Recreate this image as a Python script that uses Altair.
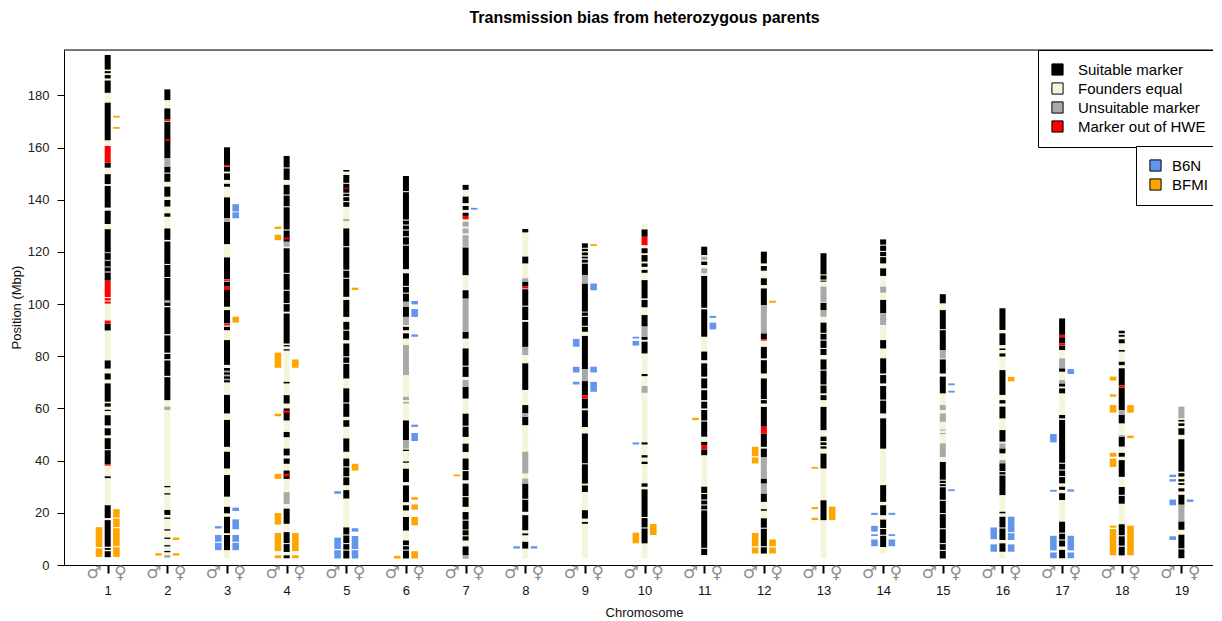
import altair as alt
import pandas as pd

# ---------------- data ----------------
chromosomes = list(range(1, 20))
chrom_start = [3.0, 2.7, 2.7, 2.6, 2.5, 2.5, 2.4, 2.5, 2.5, 2.5, 3.8, 4.4, 2.5, 4.3, 2.5, 2.5, 2.6, 3.0, 2.6]
chrom_end = [195.5, 182.3, 160.1, 156.8, 151.4, 149.1, 145.7, 128.8, 123.3, 130.7, 122.0, 120.1, 119.5, 124.8,
             103.8, 98.4, 94.5, 89.8, 60.7]

# marker segments (start Mbp, end Mbp, code) S=suitable, U=unsuitable, H=out of HWE, E=founders equal
seg1 = [(3.0, 5.3, 'S'), (5.8, 6.5, 'S'), (7.0, 17.2, 'S'), (18.0, 22.9, 'S'), (33.3, 34.0, 'S'),
        (38.6, 44.0, 'S'), (44.4, 48.6, 'S'), (38.1, 38.6, 'H'), (49.7, 52.4, 'S'), (53.5, 57.4, 'S'),
        (59.0, 59.5, 'S'), (60.7, 62.0, 'S'), (62.6, 69.6, 'S'), (71.1, 73.4, 'S'), (75.3, 78.4, 'S'),
        (89.9, 92.5, 'S'), (92.5, 93.7, 'H'), (100.2, 101.0, 'H'), (101.4, 102.3, 'H'), (102.7, 109.0, 'H'),
        (109.0, 128.7, 'S'), (112.0, 112.6, 'U'), (114.0, 114.5, 'U'), (116.5, 117.0, 'U'), (119.5, 120.0, 'U'),
        (130.7, 135.8, 'S'), (137.0, 145.3, 'S'), (146.0, 149.8, 'S'), (152.3, 154.2, 'S'), (154.2, 160.6, 'H'),
        (162.8, 177.2, 'S'), (181.0, 185.7, 'S'), (186.5, 187.8, 'S'), (188.5, 189.3, 'S'), (189.9, 195.5, 'S')]
seg2 = [(2.8, 3.8, 'U'), (4.9, 5.4, 'S'), (7.1, 7.6, 'S'), (10.0, 10.5, 'S'), (13.2, 13.7, 'S'), (17.7, 18.2, 'S'),
        (19.2, 21.1, 'S'), (27.0, 27.5, 'S'), (29.8, 30.3, 'S'), (59.4, 60.7, 'U'), (63.2, 72.0, 'S'),
        (72.5, 78.4, 'S'), (78.9, 80.9, 'S'), (81.4, 88.0, 'S'), (88.5, 98.8, 'S'), (99.3, 124.0, 'S'),
        (100.5, 101.5, 'U'), (110.0, 110.4, 'E'), (115.0, 115.4, 'E'), (124.6, 129.0, 'S'), (133.5, 134.8, 'S'),
        (137.4, 139.9, 'S'), (141.2, 145.0, 'S'), (146.9, 150.0, 'S'), (150.4, 152.7, 'S'), (152.7, 155.9, 'U'),
        (155.9, 169.9, 'S'), (162.6, 163.2, 'H'), (170.2, 170.7, 'H'), (170.7, 175.0, 'S'), (178.2, 182.3, 'S')]
seg3 = [(5.7, 11.5, 'S'), (12.2, 18.5, 'S'), (19.8, 22.3, 'S'), (26.2, 34.5, 'S'), (37.0, 43.4, 'S'),
        (45.3, 55.6, 'S'), (58.1, 65.2, 'S'), (70.0, 75.5, 'S'), (70.8, 71.4, 'U'), (72.3, 73.0, 'U'),
        (73.8, 74.5, 'U'), (76.7, 86.2, 'S'), (90.0, 91.3, 'S'), (91.8, 92.4, 'H'), (92.6, 97.7, 'S'),
        (99.0, 105.4, 'S'), (105.4, 106.7, 'H'), (106.7, 108.6, 'S'), (108.9, 109.4, 'H'), (109.5, 117.9, 'S'),
        (123.0, 131.6, 'S'), (131.6, 132.9, 'U'), (132.9, 140.9, 'S'), (145.0, 146.1, 'S'), (147.6, 150.1, 'S'),
        (150.8, 152.7, 'S'), (152.8, 153.3, 'H'), (153.3, 160.1, 'S')]
seg4 = [(2.6, 3.7, 'S'), (5.0, 8.0, 'S'), (8.4, 12.6, 'S'), (15.8, 21.6, 'S'), (23.4, 27.9, 'U'), (33.0, 36.2, 'S'),
        (34.0, 35.0, 'H'), (38.8, 40.8, 'S'), (42.0, 44.6, 'S'), (49.0, 51.0, 'S'), (55.4, 60.0, 'S'),
        (58.3, 59.3, 'H'), (61.9, 65.1, 'S'), (69.6, 70.2, 'S'), (82.2, 82.7, 'S'), (83.8, 84.3, 'S'),
        (84.9, 96.4, 'S'), (97.1, 100.0, 'S'), (100.4, 105.1, 'S'), (105.5, 111.6, 'S'), (112.0, 121.4, 'S'),
        (122.0, 123.9, 'U'), (123.9, 126.5, 'S'), (124.8, 125.5, 'H'), (126.5, 128.2, 'S'), (128.6, 137.1, 'S'),
        (137.5, 141.6, 'S'), (142.0, 145.7, 'S'), (147.6, 152.0, 'S'), (152.4, 156.8, 'S')]
seg5 = [(2.5, 5.5, 'S'), (5.9, 8.0, 'S'), (8.4, 11.3, 'S'), (11.7, 14.4, 'S'), (25.5, 28.7, 'S'), (30.6, 33.6, 'S'),
        (34.0, 37.4, 'S'), (37.8, 40.8, 'S'), (43.4, 48.5, 'S'), (53.0, 55.5, 'S'), (56.8, 61.9, 'S'),
        (62.3, 67.7, 'S'), (71.5, 77.1, 'S'), (77.5, 79.6, 'S'), (80.0, 84.9, 'S'), (86.2, 89.8, 'S'),
        (90.2, 93.2, 'S'), (95.1, 101.6, 'S'), (102.8, 109.7, 'S'), (110.1, 112.8, 'S'), (113.2, 121.8, 'S'),
        (122.2, 129.0, 'S'), (131.8, 132.6, 'U'), (137.3, 139.1, 'S'), (139.5, 141.0, 'S'), (141.4, 142.3, 'S'),
        (142.7, 146.1, 'S'), (146.5, 149.5, 'S'), (144.2, 144.6, 'H'), (150.8, 151.4, 'S')]
seg6 = [(2.5, 5.5, 'S'), (5.9, 7.2, 'S'), (7.6, 9.4, 'S'), (13.2, 18.4, 'S'), (20.9, 22.9, 'S'), (24.1, 30.5, 'S'),
        (31.8, 36.9, 'S'), (39.2, 39.7, 'S'), (43.7, 44.2, 'S'), (44.6, 47.8, 'U'), (47.8, 55.4, 'S'),
        (61.9, 62.5, 'U'), (63.2, 64.5, 'U'), (72.8, 84.3, 'U'), (86.8, 88.8, 'S'), (90.0, 91.3, 'S'),
        (92.0, 95.1, 'U'), (95.1, 98.9, 'S'), (98.9, 100.9, 'U'), (100.9, 104.0, 'S'), (104.4, 106.6, 'S'),
        (107.0, 111.8, 'S'), (113.4, 122.4, 'S'), (122.8, 125.6, 'S'), (126.0, 128.2, 'S'), (128.6, 130.1, 'S'),
        (130.5, 132.0, 'S'), (132.4, 142.9, 'S'), (143.3, 149.1, 'S')]
seg7 = [(2.4, 3.7, 'U'), (3.7, 7.1, 'S'), (9.4, 11.0, 'S'), (11.4, 13.3, 'S'), (13.6, 17.0, 'S'), (17.4, 20.3, 'S'),
        (22.3, 26.0, 'S'), (26.4, 31.2, 'S'), (32.5, 36.0, 'S'), (36.4, 40.8, 'S'), (43.3, 46.5, 'S'),
        (49.1, 53.0, 'S'), (53.4, 58.0, 'S'), (63.8, 68.3, 'S'), (68.3, 70.9, 'U'), (72.1, 76.0, 'S'),
        (76.4, 83.0, 'S'), (86.8, 89.4, 'S'), (89.4, 102.1, 'U'), (102.1, 105.3, 'S'), (111.1, 121.7, 'S'),
        (122.0, 126.4, 'U'), (127.1, 129.0, 'U'), (129.7, 131.6, 'U'), (132.5, 133.8, 'H'), (133.8, 135.0, 'S'),
        (136.1, 137.6, 'S'), (138.7, 141.2, 'S'), (143.8, 145.7, 'S')]
seg8 = [(6.3, 8.9, 'S'), (11.4, 12.1, 'S'), (13.3, 19.1, 'S'), (20.4, 25.0, 'S'), (25.4, 31.2, 'S'), (31.2, 33.1, 'U'),
        (35.1, 43.4, 'U'), (53.6, 56.8, 'S'), (56.8, 58.1, 'U'), (58.1, 61.3, 'S'), (67.1, 77.3, 'S'),
        (80.5, 83.6, 'U'), (83.6, 93.2, 'S'), (93.9, 99.0, 'S'), (99.4, 105.7, 'S'), (106.0, 106.7, 'H'),
        (106.7, 108.6, 'S'), (108.6, 109.9, 'U'), (115.6, 118.2, 'S'), (127.5, 128.8, 'S')]
seg9 = [(15.8, 16.5, 'S'), (17.8, 21.0, 'S'), (28.0, 30.5, 'S'), (31.2, 38.6, 'S'), (39.0, 50.4, 'S'),
        (52.9, 59.3, 'S'), (60.0, 63.8, 'S'), (63.8, 65.1, 'H'), (65.1, 70.5, 'S'), (70.5, 75.0, 'U'),
        (75.0, 87.8, 'S'), (89.4, 91.3, 'S'), (91.7, 95.1, 'S'), (95.5, 96.8, 'S'), (97.1, 107.9, 'S'),
        (107.9, 111.1, 'U'), (111.1, 115.5, 'S'), (115.9, 117.0, 'S'), (117.5, 118.2, 'S'), (118.7, 119.8, 'S'),
        (120.3, 121.2, 'S'), (121.6, 123.3, 'S')]
seg10 = [(8.3, 14.0, 'S'), (14.4, 18.0, 'S'), (18.4, 29.0, 'S'), (30.0, 31.3, 'S'), (38.7, 39.6, 'S'),
         (41.2, 42.1, 'S'), (46.2, 47.0, 'S'), (66.0, 68.6, 'U'), (72.4, 73.2, 'S'), (81.1, 85.6, 'S'),
         (86.3, 87.5, 'S'), (87.5, 91.4, 'U'), (91.4, 95.8, 'S'), (98.8, 101.6, 'S'), (102.2, 109.2, 'S'),
         (112.0, 113.1, 'S'), (114.3, 115.6, 'S'), (116.3, 118.8, 'S'), (119.5, 121.4, 'S'), (122.6, 125.8, 'H'),
         (125.8, 128.6, 'S')]
seg11 = [(3.8, 6.2, 'S'), (6.6, 20.9, 'S'), (21.3, 22.8, 'S'), (23.2, 24.7, 'S'), (25.1, 27.2, 'S'), (27.6, 30.0, 'S'),
         (42.1, 44.3, 'S'), (44.3, 46.0, 'H'), (46.0, 47.2, 'S'), (49.2, 55.0, 'S'), (55.4, 59.4, 'S'),
         (60.0, 62.6, 'S'), (63.2, 67.0, 'S'), (67.7, 71.5, 'S'), (72.2, 77.3, 'S'), (78.5, 81.8, 'S'),
         (87.5, 98.0, 'S'), (98.6, 110.8, 'S'), (111.8, 113.7, 'U'), (115.0, 116.3, 'S'), (116.9, 118.2, 'U'),
         (118.8, 122.0, 'S')]
seg12 = [(4.4, 6.8, 'S'), (7.2, 13.9, 'S'), (14.3, 17.9, 'S'), (20.8, 21.4, 'S'), (24.2, 27.4, 'S'), (27.4, 31.2, 'U'),
         (31.2, 33.1, 'S'), (33.1, 41.4, 'U'), (41.4, 44.6, 'S'), (45.3, 50.4, 'S'), (50.4, 53.0, 'H'),
         (53.0, 60.6, 'S'), (61.9, 63.2, 'S'), (63.6, 71.5, 'S'), (73.4, 78.5, 'S'), (79.2, 83.6, 'S'),
         (86.5, 88.8, 'S'), (86.0, 86.5, 'H'), (88.8, 99.6, 'U'), (99.6, 106.0, 'S'), (107.3, 109.9, 'S'),
         (112.8, 114.6, 'S'), (115.6, 120.1, 'S')]
seg13 = [(17.2, 24.8, 'S'), (37.0, 42.7, 'S'), (44.6, 45.5, 'S'), (46.0, 47.0, 'S'), (47.5, 49.2, 'S'),
         (51.7, 60.6, 'S'), (63.2, 65.1, 'S'), (65.8, 68.8, 'S'), (69.2, 74.5, 'S'), (74.9, 78.8, 'S'),
         (80.5, 82.8, 'S'), (83.2, 86.0, 'S'), (86.4, 88.6, 'S'), (89.0, 92.9, 'S'), (95.2, 97.7, 'U'),
         (97.7, 100.5, 'S'), (100.9, 106.7, 'U'), (108.6, 109.0, 'S'), (109.4, 111.0, 'S'), (111.4, 119.5, 'S')]
seg14 = [(6.9, 11.2, 'S'), (11.6, 13.8, 'S'), (14.2, 17.4, 'S'), (19.1, 22.9, 'S'), (24.2, 30.6, 'S'),
         (44.6, 56.2, 'S'), (58.1, 63.0, 'S'), (63.4, 68.6, 'S'), (69.6, 72.8, 'S'), (73.4, 79.2, 'S'),
         (83.0, 86.2, 'S'), (92.0, 96.5, 'U'), (94.0, 94.5, 'S'), (96.5, 101.6, 'S'), (104.4, 106.7, 'U'),
         (110.8, 113.7, 'S'), (115.6, 118.0, 'S'), (118.4, 120.0, 'S'), (120.4, 122.4, 'S'), (122.8, 124.8, 'S')]
seg15 = [(2.5, 5.4, 'S'), (5.8, 8.0, 'S'), (8.4, 13.7, 'S'), (14.1, 19.5, 'S'), (19.9, 24.6, 'S'), (25.0, 29.8, 'S'),
         (30.2, 31.0, 'S'), (31.4, 32.3, 'S'), (32.7, 39.5, 'S'), (41.4, 46.6, 'U'), (50.2, 50.6, 'U'),
         (51.5, 51.9, 'U'), (54.9, 58.1, 'U'), (59.4, 61.3, 'U'), (65.8, 72.2, 'S'), (73.4, 78.8, 'S'),
         (79.2, 82.4, 'U'), (82.4, 90.0, 'S'), (90.4, 97.7, 'S'), (100.3, 103.8, 'S')]
seg16 = [(5.1, 8.3, 'S'), (9.6, 14.0, 'S'), (14.4, 18.5, 'S'), (19.8, 20.4, 'S'), (26.8, 34.3, 'S'), (34.7, 35.6, 'S'),
         (36.0, 39.0, 'S'), (39.0, 40.2, 'U'), (42.8, 44.7, 'S'), (44.7, 46.6, 'U'), (47.3, 51.7, 'S'),
         (56.2, 60.7, 'S'), (61.9, 63.2, 'S'), (65.2, 74.7, 'S'), (79.9, 81.1, 'S'), (82.4, 83.0, 'S'),
         (84.3, 88.8, 'S'), (90.1, 98.4, 'S')]
seg17 = [(2.6, 5.8, 'S'), (7.1, 9.4, 'S'), (9.8, 12.0, 'S'), (12.4, 16.6, 'S'), (24.9, 27.5, 'S'), (28.8, 30.0, 'S'),
         (31.3, 33.7, 'S'), (34.1, 36.2, 'S'), (36.6, 38.8, 'S'), (39.2, 55.6, 'S'), (56.2, 57.5, 'S'),
         (65.8, 67.7, 'S'), (68.4, 69.6, 'S'), (69.6, 70.9, 'U'), (74.1, 75.4, 'S'), (75.4, 79.2, 'U'),
         (82.4, 84.1, 'S'), (84.1, 85.0, 'H'), (85.0, 87.3, 'S'), (87.3, 88.2, 'H'), (88.2, 94.5, 'S')]
seg18 = [(3.7, 7.0, 'S'), (7.4, 11.0, 'S'), (11.4, 15.6, 'S'), (23.5, 26.5, 'S'), (26.9, 29.9, 'S'), (33.8, 40.2, 'S'),
         (41.5, 43.0, 'S'), (45.4, 49.2, 'S'), (49.2, 49.8, 'U'), (54.3, 57.5, 'S'), (57.5, 59.4, 'U'),
         (59.4, 68.0, 'S'), (68.0, 68.8, 'H'), (68.8, 75.4, 'S'), (76.6, 77.9, 'S'), (81.8, 82.4, 'S'),
         (85.0, 86.5, 'S'), (87.5, 88.2, 'S'), (88.8, 89.8, 'S')]
seg19 = [(2.6, 6.0, 'S'), (6.4, 11.6, 'S'), (13.5, 16.7, 'S'), (16.7, 23.1, 'U'), (23.1, 26.9, 'S'), (28.2, 29.4, 'S'),
         (30.7, 31.4, 'S'), (32.0, 32.9, 'S'), (33.9, 35.2, 'S'), (35.8, 48.2, 'S'), (49.9, 52.4, 'S'),
         (53.3, 54.3, 'S'), (55.0, 55.6, 'S'), (56.3, 60.7, 'U')]

# transmission bias regions (chromosome, start Mbp, end Mbp, allele) B=B6N, O=BFMI
male_bias = [(1, 3.1, 6.4, 'O'), (1, 6.9, 14.5, 'O'), (2, 3.6, 4.5, 'O'),
             (3, 14.0, 14.9, 'B'), (3, 5.7, 8.5, 'B'), (3, 8.9, 11.5, 'B'),
             (4, 128.8, 129.7, 'O'), (4, 124.5, 126.6, 'O'), (4, 75.6, 81.4, 'O'), (4, 57.0, 58.0, 'O'),
             (4, 33.0, 34.9, 'O'), (4, 15.5, 19.9, 'O'), (4, 5.3, 12.3, 'O'), (4, 2.6, 3.7, 'O'),
             (5, 27.3, 28.3, 'B'), (5, 6.1, 10.5, 'B'), (5, 2.5, 5.7, 'B'),
             (6, 2.5, 3.5, 'O'), (7, 34.0, 34.7, 'O'), (8, 6.3, 7.2, 'B'),
             (9, 83.7, 86.6, 'B'), (9, 73.8, 76.0, 'B'), (9, 69.2, 70.2, 'B'),
             (10, 86.8, 87.5, 'B'), (10, 84.1, 85.9, 'B'), (10, 46.2, 47.0, 'B'), (10, 8.3, 12.4, 'O'),
             (11, 55.5, 56.4, 'O'),
             (12, 41.7, 45.3, 'O'), (12, 38.9, 41.2, 'O'), (12, 7.2, 12.3, 'O'), (12, 4.4, 6.7, 'O'),
             (13, 36.9, 37.6, 'O'), (13, 21.4, 22.2, 'O'), (13, 17.2, 18.1, 'O'),
             (14, 19.2, 20.0, 'B'), (14, 12.8, 15.0, 'B'), (14, 11.1, 11.8, 'B'), (14, 7.2, 9.8, 'B'),
             (16, 9.9, 14.4, 'B'), (16, 5.1, 7.9, 'B'),
             (17, 47.0, 50.2, 'B'), (17, 28.1, 28.8, 'B'), (17, 5.6, 11.2, 'B'), (17, 2.6, 4.8, 'B'),
             (18, 70.7, 72.2, 'O'), (18, 64.5, 65.4, 'O'), (18, 58.4, 61.3, 'O'), (18, 41.5, 43.0, 'O'),
             (18, 37.6, 40.8, 'O'), (18, 14.3, 15.1, 'O'), (18, 3.7, 13.8, 'O'),
             (19, 33.7, 34.6, 'B'), (19, 32.0, 32.9, 'B'), (19, 22.9, 25.1, 'B'), (19, 9.6, 11.0, 'B')]
female_bias = [(1, 3.1, 6.8, 'O'), (1, 7.2, 14.1, 'O'), (1, 14.5, 17.8, 'O'), (1, 18.2, 21.4, 'O'),
               (1, 167.2, 167.9, 'O'), (1, 171.5, 172.2, 'O'),
               (2, 9.6, 10.5, 'O'), (2, 3.6, 4.5, 'O'),
               (3, 20.7, 22.0, 'B'), (3, 13.7, 17.5, 'B'), (3, 5.7, 8.5, 'B'), (3, 8.9, 11.5, 'B'),
               (3, 92.9, 95.2, 'O'), (3, 135.5, 138.3, 'B'), (3, 132.9, 135.2, 'B'),
               (4, 75.6, 78.8, 'O'), (4, 5.3, 12.3, 'O'), (4, 2.6, 3.7, 'O'),
               (5, 12.8, 14.1, 'B'), (5, 6.1, 11.1, 'B'), (5, 2.5, 5.7, 'B'), (5, 105.4, 106.3, 'O'),
               (5, 36.2, 38.8, 'O'),
               (6, 99.9, 101.2, 'B'), (6, 95.1, 98.1, 'B'), (6, 87.5, 88.4, 'B'), (6, 52.9, 53.8, 'B'),
               (6, 47.5, 50.6, 'B'), (6, 25.0, 26.0, 'O'), (6, 21.2, 23.2, 'O'), (6, 15.2, 18.4, 'O'),
               (6, 2.5, 5.3, 'O'),
               (7, 136.2, 136.9, 'B'), (8, 6.3, 7.2, 'B'),
               (9, 105.3, 107.9, 'B'), (9, 73.8, 76.0, 'B'), (9, 66.4, 70.2, 'B'), (9, 122.3, 123.0, 'O'),
               (10, 11.5, 15.7, 'O'),
               (11, 94.7, 95.5, 'B'), (11, 90.3, 92.9, 'B'),
               (12, 100.5, 101.3, 'O'), (12, 7.2, 9.8, 'O'), (12, 4.4, 6.7, 'O'),
               (13, 17.2, 22.4, 'O'),
               (14, 19.2, 20.0, 'B'), (14, 11.1, 11.8, 'B'), (14, 7.2, 9.8, 'B'),
               (15, 68.9, 69.6, 'B'), (15, 66.1, 66.8, 'B'), (15, 28.3, 29.0, 'B'),
               (16, 70.4, 72.1, 'O'), (16, 12.6, 18.5, 'B'), (16, 9.6, 12.2, 'B'), (16, 5.1, 7.9, 'B'),
               (17, 73.2, 75.1, 'B'), (17, 28.1, 29.0, 'B'), (17, 5.6, 11.2, 'B'), (17, 2.6, 4.8, 'B'),
               (18, 58.4, 61.3, 'O'), (18, 48.6, 49.6, 'O'), (18, 3.7, 15.1, 'O'),
               (19, 24.2, 25.1, 'B')]

marker_domain = ['Suitable marker', 'Founders equal', 'Unsuitable marker', 'Marker out of HWE']
marker_colors = ['#000000', '#F5F5DC', '#A9A9A9', '#FF0000']
allele_domain = ['B6N', 'BFMI']
allele_colors = ['#6495ED', '#FFA500']
y_ticks = [0, 20, 40, 60, 80, 100, 120, 140, 160, 180]

# ---------------- layout constants ----------------
PX_PER_CHR = 59.65
BAR_HALF = 3.0 / PX_PER_CHR
BIAS_IN = 5.4 / PX_PER_CHR
BIAS_OUT = 12.0 / PX_PER_CHR
SYM_OFF_M = 13.5 / PX_PER_CHR
SYM_OFF_F = 12.8 / PX_PER_CHR
PLOT_W, PLOT_H = 1149, 515
X_DOMAIN = [0.2674, 0.2674 + PLOT_W / PX_PER_CHR]
Y_DOMAIN = [0, 197.4]
FONT = 'Liberation Sans'

code_name = {'S': 'Suitable marker', 'E': 'Founders equal', 'U': 'Unsuitable marker', 'H': 'Marker out of HWE'}
code_rank = {'S': 1, 'U': 2, 'H': 3, 'E': 4}
allele_name = {'B': 'B6N', 'O': 'BFMI'}

all_segments = [seg1, seg2, seg3, seg4, seg5, seg6, seg7, seg8, seg9, seg10,
                seg11, seg12, seg13, seg14, seg15, seg16, seg17, seg18, seg19]

rows = []
for c, s, e in zip(chromosomes, chrom_start, chrom_end):
    rows.append(dict(x=c - BAR_HALF, x2=c + BAR_HALF, start=s, end=e, type='Founders equal', rank=0))
for c, segs in zip(chromosomes, all_segments):
    for s, e, code in segs:
        rows.append(dict(x=c - BAR_HALF, x2=c + BAR_HALF, start=s, end=e, type=code_name[code],
                         rank=code_rank[code]))
seg_df = pd.DataFrame(rows).sort_values('rank', kind='stable').reset_index(drop=True)
seg_df['idx'] = range(len(seg_df))

brows = []
for c, s, e, a in male_bias:
    brows.append(dict(x=c - BIAS_OUT, x2=c - BIAS_IN, start=s, end=e, allele=allele_name[a]))
for c, s, e, a in female_bias:
    brows.append(dict(x=c + BIAS_IN, x2=c + BIAS_OUT, start=s, end=e, allele=allele_name[a]))
bias_df = pd.DataFrame(brows)

sym_rows = []
for c in chromosomes:
    sym_rows.append(dict(x=c - SYM_OFF_M, sym='\u2642'))
    sym_rows.append(dict(x=c + SYM_OFF_F, sym='\u2640'))
sym_df = pd.DataFrame(sym_rows)

xscale = alt.Scale(domain=X_DOMAIN, nice=False, zero=False)
yscale = alt.Scale(domain=Y_DOMAIN, nice=False, zero=False)
x_axis = alt.Axis(values=chromosomes, format='d', title=None, grid=False, labelFont=FONT,
                  labelFontSize=13, labelColor='#111111', tickSize=8, tickWidth=2, tickColor='black',
                  domainColor='black', domainWidth=1, labelPadding=11, labelFlush=False, labelOverlap=False)
y_axis = alt.Axis(values=y_ticks, title=None, grid=False, labelFont=FONT, labelFontSize=13,
                  labelColor='#222222', tickSize=7, tickColor='black', domainColor='black', domainWidth=1,
                  labelPadding=8)

X = alt.X('x:Q', scale=xscale, axis=x_axis)
Y = alt.Y('start:Q', scale=yscale, axis=y_axis)

legend_common = dict(title=None, orient='none', direction='vertical', symbolType='square', symbolSize=125,
                     symbolStrokeColor='black', symbolStrokeWidth=1, labelFont=FONT, labelFontSize=15,
                     labelColor='black', rowPadding=2, padding=12,
                     strokeColor='black', fillColor='white')

chrom_layer = alt.Chart(seg_df).mark_rect().encode(
    x=X, x2='x2:Q', y=Y, y2='end:Q',
    color=alt.Color('type:N', scale=alt.Scale(domain=marker_domain, range=marker_colors),
                    legend=alt.Legend(legendX=1038 - 64, legendY=0, labelOffset=13, **legend_common)),
    order=alt.Order('idx:Q'),
)

bias_layer = alt.Chart(bias_df).mark_rect().encode(
    x=X, x2='x2:Q', y=Y, y2='end:Q',
    color=alt.Color('allele:N', scale=alt.Scale(domain=allele_domain, range=allele_colors),
                    legend=alt.Legend(legendX=1136 - 64, legendY=96, labelOffset=9, **legend_common)),
)

top_line = alt.Chart(pd.DataFrame({'start': [Y_DOMAIN[1]]})).mark_rule(color='black', strokeWidth=1).encode(
    y=Y)

sym_layer = alt.Chart(sym_df).mark_text(font='DejaVu Sans', fontSize=17, color='#8c8c8c',
                                        baseline='middle', align='center').encode(
    x=X, y=alt.value(PLOT_H + 8), text='sym:N')

title_df = pd.DataFrame({'x': [10.0], 't': ['Transmission bias from heterozygous parents']})
title_layer = alt.Chart(title_df).mark_text(font=FONT, fontSize=16, fontWeight='bold', color='black',
                                            baseline='middle', align='center').encode(
    x=X, y=alt.value(-32), text='t:N')

xt_df = pd.DataFrame({'x': [10.0], 't': ['Chromosome']})
xt_layer = alt.Chart(xt_df).mark_text(font=FONT, fontSize=13, color='#111111',
                                      baseline='middle', align='center').encode(
    x=X, y=alt.value(PLOT_H + 48), text='t:N')

yt_df = pd.DataFrame({'t': ['Position (Mbp)']})
yt_layer = alt.Chart(yt_df).mark_text(font=FONT, fontSize=13, color='#111111', angle=270,
                                      baseline='middle', align='center').encode(
    x=alt.value(-47), y=alt.value(PLOT_H / 2), text='t:N')

chart = alt.layer(chrom_layer, bias_layer, top_line, sym_layer, title_layer, xt_layer, yt_layer).resolve_scale(
    color='independent'
).properties(
    width=PLOT_W, height=PLOT_H,
    autosize=alt.AutoSizeParams(type='none'),
    padding={'left': 56, 'top': 42, 'right': 0, 'bottom': 56},
).configure_view(stroke=None).configure(background='white')

chart.save('out.html', embed_options={'renderer': 'svg', 'actions': False})
